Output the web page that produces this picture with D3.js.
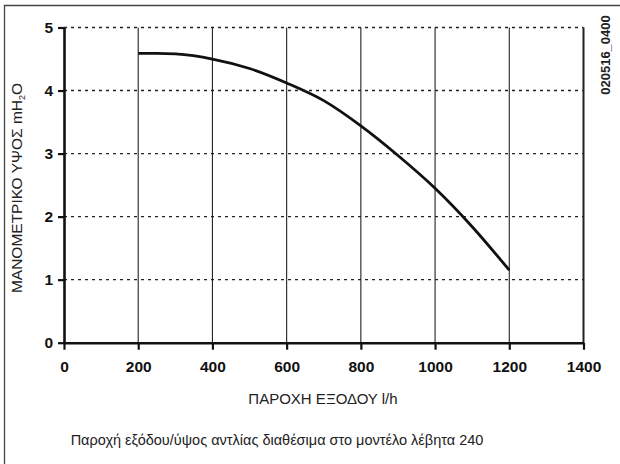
<!DOCTYPE html>
<html><head><meta charset="utf-8">
<script src="https://cdn.jsdelivr.net/npm/d3@7"></script>
<style>body{margin:0;background:#fff}svg{display:block}</style>
</head><body>
<svg id="c" width="620" height="464"></svg>
<script>
const flow = [200, 250, 300, 400, 500, 600, 700, 800, 900, 1000, 1100, 1200];
const head = [4.59, 4.59, 4.58, 4.50, 4.35, 4.12, 3.84, 3.44, 2.97, 2.45, 1.84, 1.15];
const xTicks = [0, 200, 400, 600, 800, 1000, 1200, 1400];
const yTicks = [0, 1, 2, 3, 4, 5];
const xTitle = "ΠΑΡΟΧΗ ΕΞΟΔΟΥ l/h";
const yTitle = "ΜΑΝΟΜΕΤΡΙΚΟ ΥΨΟΣ mH";
const caption = "Παροχή εξόδου/ύψος αντλίας διαθέσιμα στο μοντέλο λέβητα 240";
const code = "020516_0400";

const svg = d3.select("#c");
const font = "'Liberation Sans', Arial, sans-serif";
const x = d3.scaleLinear().domain([0, 1400]).range([64, 583.5]);
const y = d3.scaleLinear().domain([0, 5]).range([342.7, 27.5]);

// frame
svg.append("path").attr("d", "M4.5,470 V5.5 H625").attr("fill", "none")
  .attr("stroke", "#444").attr("stroke-width", 1.3);

// horizontal dotted grid
svg.append("g").selectAll("line").data(yTicks.filter(d => d > 0)).join("line")
  .attr("x1", x(0)).attr("x2", x(1400)).attr("y1", d => y(d)).attr("y2", d => y(d))
  .attr("stroke", "#222").attr("stroke-width", 1.4).attr("stroke-dasharray", "3,4");

// vertical grid
svg.append("g").selectAll("line").data(xTicks.filter(d => d > 0 && d < 1400)).join("line")
  .attr("x1", d => x(d)).attr("x2", d => x(d)).attr("y1", y(0)).attr("y2", y(5))
  .attr("stroke", "#222").attr("stroke-width", 1.1);
svg.append("line").attr("x1", x(1400)).attr("x2", x(1400)).attr("y1", y(0)).attr("y2", y(5))
  .attr("stroke", "#222").attr("stroke-width", 2);

// axes
const xa = svg.append("g").attr("transform", `translate(0,${y(0)})`)
  .call(d3.axisBottom(x).tickValues(xTicks).tickFormat(d3.format("d")).tickSize(7).tickPadding(11).tickSizeOuter(0));
const ya = svg.append("g").attr("transform", `translate(${x(0)},0)`)
  .call(d3.axisLeft(y).tickValues(yTicks).tickFormat(d3.format("d")).tickSize(6).tickPadding(5).tickSizeOuter(0));
[xa, ya].forEach(a => {
  a.select(".domain").attr("stroke", "#111").attr("stroke-width", 2.6);
  a.selectAll(".tick line").attr("stroke", "#111").attr("stroke-width", 2.2);
  a.selectAll("text").attr("fill", "#111").attr("font-family", font)
    .attr("font-size", 15.5).attr("font-weight", "bold");
});

// curve
svg.append("path").datum(flow.map((f, i) => [f, head[i]]))
  .attr("d", d3.line().x(d => x(d[0])).y(d => y(d[1])).curve(d3.curveMonotoneX))
  .attr("fill", "none").attr("stroke", "#111").attr("stroke-width", 2.8);

// titles
svg.append("text").attr("x", 323).attr("y", 404).attr("text-anchor", "middle")
  .attr("font-family", font).attr("font-size", 15).attr("fill", "#222").text(xTitle);
const yt = svg.append("text").attr("transform", "translate(22,188) rotate(-90)")
  .attr("text-anchor", "middle").attr("font-family", font).attr("font-size", 15.5).attr("fill", "#222");
yt.append("tspan").text(yTitle);
yt.append("tspan").attr("font-size", 9).attr("dy", 3).text("2");
yt.append("tspan").attr("dy", -3).text("O");
svg.append("text").attr("x", 277).attr("y", 445).attr("text-anchor", "middle")
  .attr("font-family", font).attr("font-size", 14.5).attr("fill", "#222").text(caption);
svg.append("text").attr("transform", "translate(610,55) rotate(-90)").attr("text-anchor", "middle")
  .attr("font-family", font).attr("font-size", 13).attr("font-weight", "bold").attr("fill", "#222").text(code);
</script>
</body></html>
